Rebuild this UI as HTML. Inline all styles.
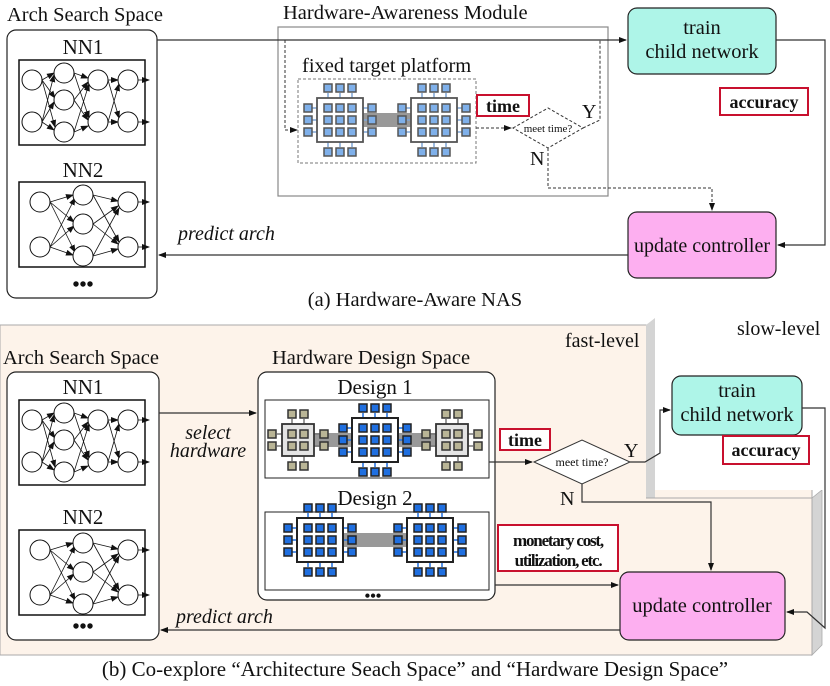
<!DOCTYPE html>
<html><head><meta charset="utf-8"><style>
body{margin:0;background:#fff}
svg{display:block}
text{font-family:"Liberation Serif",serif;fill:#111}
</style></head><body>
<svg width="830" height="686" viewBox="0 0 830 686" xmlns="http://www.w3.org/2000/svg">
<defs>
<marker id="ar" markerWidth="8" markerHeight="8" refX="7" refY="4" orient="auto" markerUnits="userSpaceOnUse"><path d="M0,1 L8,4 L0,7 Z" fill="#111"/></marker>
<g id="chipA">
 <g fill="#7fb0ea" stroke="#555" stroke-width="1.5">
  <line x1="-12" y1="-27" x2="-12" y2="-22" stroke="#7fa6d6"/><line x1="0" y1="-27" x2="0" y2="-22" stroke="#7fa6d6"/><line x1="12" y1="-27" x2="12" y2="-22" stroke="#7fa6d6"/>
  <line x1="-12" y1="27" x2="-12" y2="22" stroke="#7fa6d6"/><line x1="0" y1="27" x2="0" y2="22" stroke="#7fa6d6"/><line x1="12" y1="27" x2="12" y2="22" stroke="#7fa6d6"/>
  <line x1="-28" y1="-12" x2="-22" y2="-12" stroke="#7fa6d6"/><line x1="-28" y1="0" x2="-22" y2="0" stroke="#7fa6d6"/><line x1="-28" y1="12" x2="-22" y2="12" stroke="#7fa6d6"/>
  <line x1="28" y1="-12" x2="22" y2="-12" stroke="#7fa6d6"/><line x1="28" y1="0" x2="22" y2="0" stroke="#7fa6d6"/><line x1="28" y1="12" x2="22" y2="12" stroke="#7fa6d6"/>
  <rect x="-23" y="-22" width="46" height="44" fill="#fff" stroke="#555" stroke-width="1.8"/>
  <rect x="-16" y="-16" width="8" height="8"/><rect x="-4" y="-16" width="8" height="8"/><rect x="8" y="-16" width="8" height="8"/>
  <rect x="-16" y="-4" width="8" height="8"/><rect x="-4" y="-4" width="8" height="8"/><rect x="8" y="-4" width="8" height="8"/>
  <rect x="-16" y="8" width="8" height="8"/><rect x="-4" y="8" width="8" height="8"/><rect x="8" y="8" width="8" height="8"/>
  <rect x="-16" y="-36" width="8" height="8"/><rect x="-4" y="-36" width="8" height="8"/><rect x="8" y="-36" width="8" height="8"/>
  <rect x="-16" y="28" width="8" height="8"/><rect x="-4" y="28" width="8" height="8"/><rect x="8" y="28" width="8" height="8"/>
  <rect x="-36" y="-16" width="8" height="8"/><rect x="-36" y="-4" width="8" height="8"/><rect x="-36" y="8" width="8" height="8"/>
  <rect x="28" y="-16" width="8" height="8"/><rect x="28" y="-4" width="8" height="8"/><rect x="28" y="8" width="8" height="8"/>
 </g>
</g>
<g id="chipB">
 <g fill="#1f6fe0" stroke="#222" stroke-width="1.5">
  <line x1="-12" y1="-27" x2="-12" y2="-22" stroke="#1f6fe0"/><line x1="0" y1="-27" x2="0" y2="-22" stroke="#1f6fe0"/><line x1="12" y1="-27" x2="12" y2="-22" stroke="#1f6fe0"/>
  <line x1="-12" y1="27" x2="-12" y2="22" stroke="#1f6fe0"/><line x1="0" y1="27" x2="0" y2="22" stroke="#1f6fe0"/><line x1="12" y1="27" x2="12" y2="22" stroke="#1f6fe0"/>
  <line x1="-28" y1="-12" x2="-22" y2="-12" stroke="#1f6fe0"/><line x1="-28" y1="0" x2="-22" y2="0" stroke="#1f6fe0"/><line x1="-28" y1="12" x2="-22" y2="12" stroke="#1f6fe0"/>
  <line x1="28" y1="-12" x2="22" y2="-12" stroke="#1f6fe0"/><line x1="28" y1="0" x2="22" y2="0" stroke="#1f6fe0"/><line x1="28" y1="12" x2="22" y2="12" stroke="#1f6fe0"/>
  <rect x="-23" y="-22" width="46" height="44" fill="#fff" stroke="#222" stroke-width="2"/>
  <rect x="-16" y="-16" width="8" height="8"/><rect x="-4" y="-16" width="8" height="8"/><rect x="8" y="-16" width="8" height="8"/>
  <rect x="-16" y="-4" width="8" height="8"/><rect x="-4" y="-4" width="8" height="8"/><rect x="8" y="-4" width="8" height="8"/>
  <rect x="-16" y="8" width="8" height="8"/><rect x="-4" y="8" width="8" height="8"/><rect x="8" y="8" width="8" height="8"/>
  <rect x="-16" y="-36" width="8" height="8"/><rect x="-4" y="-36" width="8" height="8"/><rect x="8" y="-36" width="8" height="8"/>
  <rect x="-16" y="28" width="8" height="8"/><rect x="-4" y="28" width="8" height="8"/><rect x="8" y="28" width="8" height="8"/>
  <rect x="-36" y="-16" width="8" height="8"/><rect x="-36" y="-4" width="8" height="8"/><rect x="-36" y="8" width="8" height="8"/>
  <rect x="28" y="-16" width="8" height="8"/><rect x="28" y="-4" width="8" height="8"/><rect x="28" y="8" width="8" height="8"/>
 </g>
</g>
<g id="chipC">
 <g fill="#b9b596" stroke="#333" stroke-width="1.5">
  <line x1="-6" y1="-21" x2="-6" y2="-16" stroke="#777"/><line x1="6" y1="-21" x2="6" y2="-16" stroke="#777"/>
  <line x1="-6" y1="21" x2="-6" y2="16" stroke="#777"/><line x1="6" y1="21" x2="6" y2="16" stroke="#777"/>
  <line x1="-21" y1="-6" x2="-16" y2="-6" stroke="#777"/><line x1="-21" y1="6" x2="-16" y2="6" stroke="#777"/>
  <line x1="21" y1="-6" x2="16" y2="-6" stroke="#777"/><line x1="21" y1="6" x2="16" y2="6" stroke="#777"/>
  <rect x="-16" y="-16" width="32" height="32" fill="#e4e4e4" stroke="#333" stroke-width="1.8"/>
  <rect x="-10" y="-10" width="8" height="8"/><rect x="2" y="-10" width="8" height="8"/>
  <rect x="-10" y="2" width="8" height="8"/><rect x="2" y="2" width="8" height="8"/>
  <rect x="-10" y="-30" width="8" height="8"/><rect x="2" y="-30" width="8" height="8"/>
  <rect x="-10" y="22" width="8" height="8"/><rect x="2" y="22" width="8" height="8"/>
  <rect x="-30" y="-10" width="8" height="8"/><rect x="-30" y="2" width="8" height="8"/>
  <rect x="22" y="-10" width="8" height="8"/><rect x="22" y="2" width="8" height="8"/>
 </g>
</g>
<g id="nn1" fill="none" stroke="#111" stroke-width="1">
 <rect x="0" y="0" width="126" height="85" stroke-width="1.5"/>
 <g marker-end="url(#ar)" stroke-width="0.8">
  <line x1="23" y1="20" x2="35" y2="13"/><line x1="23" y1="20" x2="36" y2="67"/><line x1="23" y1="20" x2="36" y2="38"/>
  <line x1="23" y1="62" x2="35" y2="15"/><line x1="23" y1="62" x2="35" y2="42"/><line x1="23" y1="62" x2="35" y2="70"/>
  <line x1="55" y1="13" x2="69" y2="18"/><line x1="55" y1="13" x2="70" y2="58"/>
  <line x1="55" y1="40" x2="69" y2="22"/><line x1="55" y1="40" x2="69" y2="60"/>
  <line x1="55" y1="72" x2="70" y2="24"/><line x1="55" y1="72" x2="69" y2="66"/>
  <line x1="89" y1="20" x2="99" y2="20"/><line x1="89" y1="20" x2="100" y2="58"/>
  <line x1="89" y1="62" x2="100" y2="24"/><line x1="89" y1="62" x2="99" y2="62"/>
  <line x1="119" y1="20" x2="130" y2="20"/><line x1="119" y1="62" x2="130" y2="62"/>
 </g>
 <g fill="#fff"><circle cx="13" cy="20" r="10"/><circle cx="13" cy="62" r="10"/>
 <circle cx="45" cy="13" r="10"/><circle cx="45" cy="40" r="10"/><circle cx="45" cy="72" r="10"/>
 <circle cx="79" cy="20" r="10"/><circle cx="79" cy="62" r="10"/>
 <circle cx="109" cy="20" r="10"/><circle cx="109" cy="62" r="10"/></g>
</g>
<g id="nn2" fill="none" stroke="#111" stroke-width="1">
 <rect x="0" y="0" width="126" height="85" stroke-width="1.5"/>
 <g marker-end="url(#ar)" stroke-width="0.8">
  <line x1="31" y1="20" x2="54" y2="13"/><line x1="31" y1="20" x2="55" y2="40"/><line x1="31" y1="20" x2="56" y2="70"/>
  <line x1="31" y1="65" x2="56" y2="16"/><line x1="31" y1="65" x2="55" y2="44"/><line x1="31" y1="65" x2="54" y2="73"/>
  <line x1="74" y1="13" x2="99" y2="19"/><line x1="74" y1="13" x2="100" y2="60"/>
  <line x1="74" y1="42" x2="99" y2="24"/><line x1="74" y1="42" x2="99" y2="62"/>
  <line x1="74" y1="74" x2="100" y2="26"/><line x1="74" y1="74" x2="99" y2="67"/>
  <line x1="119" y1="20" x2="130" y2="20"/><line x1="119" y1="65" x2="130" y2="65"/>
 </g>
 <g fill="#fff"><circle cx="21" cy="20" r="10"/><circle cx="21" cy="65" r="10"/>
 <circle cx="64" cy="13" r="10"/><circle cx="64" cy="42" r="10"/><circle cx="64" cy="74" r="10"/>
 <circle cx="109" cy="20" r="10"/><circle cx="109" cy="65" r="10"/></g>
</g>
</defs>

<!-- ===== TOP (a) ===== -->
<text x="7" y="21" font-size="20.5">Arch Search Space</text>
<rect x="7" y="30" width="150" height="268" rx="9" fill="#fff" stroke="#222" stroke-width="1.2"/>
<text x="83" y="54" font-size="21" text-anchor="middle">NN1</text>
<use href="#nn1" x="19" y="60"/>
<text x="83" y="177" font-size="21" text-anchor="middle">NN2</text>
<use href="#nn2" x="19" y="182"/>
<text x="83" y="291" font-size="20" text-anchor="middle" font-weight="bold">•••</text>

<text x="283" y="19" font-size="20.5">Hardware-Awareness Module</text>
<rect x="278" y="27" width="330" height="169" fill="none" stroke="#888" stroke-width="1.2"/>
<line x1="157" y1="40" x2="626" y2="40" stroke="#333" stroke-width="1.2" marker-end="url(#ar)"/>
<polyline points="285,40 285,130 297,130" fill="none" stroke="#333" stroke-dasharray="3,2" marker-end="url(#ar)"/>
<text x="302" y="72" font-size="20.5">fixed target platform</text>
<rect x="298" y="79" width="178" height="84" fill="none" stroke="#777" stroke-dasharray="3,2"/>
<rect x="362" y="113" width="50" height="14" fill="#999"/>
<use href="#chipA" x="340" y="120"/>
<use href="#chipA" x="434" y="120"/>
<rect x="477" y="95" width="52" height="21" fill="#fff" stroke="#c8102e" stroke-width="2"/>
<text x="503" y="112" font-size="18" font-weight="bold" text-anchor="middle">time</text>
<line x1="476" y1="128" x2="511" y2="128" stroke="#333" stroke-dasharray="3,2" marker-end="url(#ar)"/>
<polygon points="513,128 548,108 583,128 548,148" fill="#fff" stroke="#333" stroke-dasharray="3,2"/>
<text x="548" y="132" font-size="11" text-anchor="middle">meet time?</text>
<polyline points="583,128 600,120 600,40" fill="none" stroke="#333" stroke-dasharray="3,2"/>
<text x="582" y="118" font-size="20">Y</text>
<text x="530" y="165" font-size="20">N</text>
<polyline points="548,148 548,188 712,188 712,210" fill="none" stroke="#333" stroke-dasharray="3,2" marker-end="url(#ar)"/>
<rect x="628" y="8" width="148" height="66" rx="9" fill="#aef5e8" stroke="#222" stroke-width="1.2"/>
<text x="702" y="34" font-size="20.5" text-anchor="middle">train</text>
<text x="702" y="58" font-size="20.5" text-anchor="middle">child network</text>
<rect x="720" y="88" width="88" height="27" fill="#fff" stroke="#c8102e" stroke-width="2"/>
<text x="764" y="108" font-size="18" font-weight="bold" text-anchor="middle">accuracy</text>
<rect x="628" y="212" width="148" height="66" rx="9" fill="#fdaff0" stroke="#222" stroke-width="1.2"/>
<text x="702" y="252" font-size="20" text-anchor="middle">update controller</text>
<polyline points="776,40 825,40 825,245 778,245" fill="none" stroke="#333" stroke-width="1.2" marker-end="url(#ar)"/>
<line x1="628" y1="255" x2="159" y2="255" stroke="#333" stroke-width="1.2" marker-end="url(#ar)"/>
<text x="178" y="240" font-size="20" font-style="italic">predict arch</text>
<text x="415" y="306" font-size="20.5" text-anchor="middle">(a) Hardware-Aware NAS</text>

<!-- ===== BOTTOM (b) ===== -->
<rect x="0" y="325" width="812" height="330" fill="#fdf3ea" stroke="#aaa" stroke-width="1"/>
<polygon points="646,325 655,318 830,318 830,490 655,490 655,498 646,498" fill="#d4d4d4"/>
<polygon points="812,498 822,490 822,645 812,655" fill="#d4d4d4" stroke="#aaa" stroke-width="0.8"/>
<rect x="655" y="318" width="175" height="172" fill="#fff"/>
<polyline points="646,498 812,498 812,655" fill="none" stroke="#aaa"/>
<text x="565" y="347" font-size="20">fast-level</text>
<text x="737" y="335" font-size="20">slow-level</text>

<text x="3" y="364" font-size="20.5">Arch Search Space</text>
<rect x="7" y="372" width="152" height="268" rx="9" fill="#fff" stroke="#222" stroke-width="1.2"/>
<text x="83" y="394" font-size="21" text-anchor="middle">NN1</text>
<use href="#nn1" x="19" y="400"/>
<text x="83" y="524" font-size="21" text-anchor="middle">NN2</text>
<use href="#nn2" x="19" y="530"/>
<text x="83" y="633" font-size="20" text-anchor="middle" font-weight="bold">•••</text>

<text x="208" y="439" font-size="20" font-style="italic" text-anchor="middle">select</text>
<text x="208" y="457" font-size="20" font-style="italic" text-anchor="middle">hardware</text>
<line x1="159" y1="413" x2="256" y2="413" stroke="#333" stroke-width="1.2" marker-end="url(#ar)"/>

<text x="272" y="364" font-size="20.5">Hardware Design Space</text>
<rect x="258" y="372" width="237" height="228" rx="9" fill="#fff" stroke="#222" stroke-width="1.2"/>
<text x="375" y="394" font-size="21" text-anchor="middle">Design 1</text>
<rect x="265" y="400" width="224" height="78" fill="#fff" stroke="#222"/>
<rect x="310" y="433" width="130" height="14" fill="#999"/>
<use href="#chipC" x="298" y="440"/>
<use href="#chipC" x="452" y="440"/>
<use href="#chipB" x="375" y="440"/>
<text x="375" y="505" font-size="21" text-anchor="middle">Design 2</text>
<rect x="265" y="512" width="224" height="78" fill="#fff" stroke="#222"/>
<rect x="343" y="533" width="64" height="14" fill="#999"/>
<use href="#chipB" x="320" y="540"/>
<use href="#chipB" x="430" y="540"/>
<text x="373" y="601" font-size="16" text-anchor="middle" font-weight="bold">•••</text>

<rect x="500" y="429" width="50" height="21" fill="#fff" stroke="#c8102e" stroke-width="2"/>
<text x="525" y="446" font-size="18" font-weight="bold" text-anchor="middle">time</text>
<line x1="489" y1="462" x2="532" y2="462" stroke="#333" stroke-width="1.2" marker-end="url(#ar)"/>
<polygon points="534,462 582,440 630,462 582,484" fill="#fff" stroke="#333"/>
<text x="582" y="466" font-size="12" text-anchor="middle">meet time?</text>
<text x="624" y="457" font-size="20">Y</text>
<polyline points="630,462 645,462 660,453 660,410 670,410" fill="none" stroke="#333" stroke-width="1.2" marker-end="url(#ar)"/>
<text x="560" y="505" font-size="20">N</text>
<polyline points="582,484 582,502 711,502 711,570" fill="none" stroke="#333" stroke-width="1.2" marker-end="url(#ar)"/>
<rect x="672" y="376" width="130" height="59" rx="9" fill="#aef5e8" stroke="#222" stroke-width="1.2"/>
<text x="737" y="397" font-size="20.5" text-anchor="middle">train</text>
<text x="737" y="421" font-size="20.5" text-anchor="middle">child network</text>
<rect x="723" y="436" width="86" height="28" fill="#fff" stroke="#c8102e" stroke-width="2"/>
<text x="766" y="456" font-size="18" font-weight="bold" text-anchor="middle">accuracy</text>
<polyline points="802,408 825,408 825,628 807,612 787,612" fill="none" stroke="#333" stroke-width="1.2" marker-end="url(#ar)"/>
<rect x="498" y="525" width="120" height="46" fill="#fff" stroke="#c8102e" stroke-width="2"/>
<text x="558" y="546" font-size="17" font-weight="bold" text-anchor="middle" letter-spacing="-1.2">monetary cost,</text>
<text x="558" y="566" font-size="17" font-weight="bold" text-anchor="middle" letter-spacing="-1.2">utilization, etc.</text>
<line x1="495" y1="585" x2="618" y2="585" stroke="#333" stroke-width="1.2" marker-end="url(#ar)"/>
<rect x="620" y="572" width="165" height="68" rx="9" fill="#fdaff0" stroke="#222" stroke-width="1.2"/>
<text x="702" y="612" font-size="20.5" text-anchor="middle">update controller</text>
<line x1="620" y1="630" x2="161" y2="630" stroke="#333" stroke-width="1.2" marker-end="url(#ar)"/>
<text x="176" y="623" font-size="20" font-style="italic">predict arch</text>
<text x="415" y="676" font-size="21" text-anchor="middle">(b) Co-explore “Architecture Seach Space” and “Hardware Design Space”</text>
</svg>
</body></html>
